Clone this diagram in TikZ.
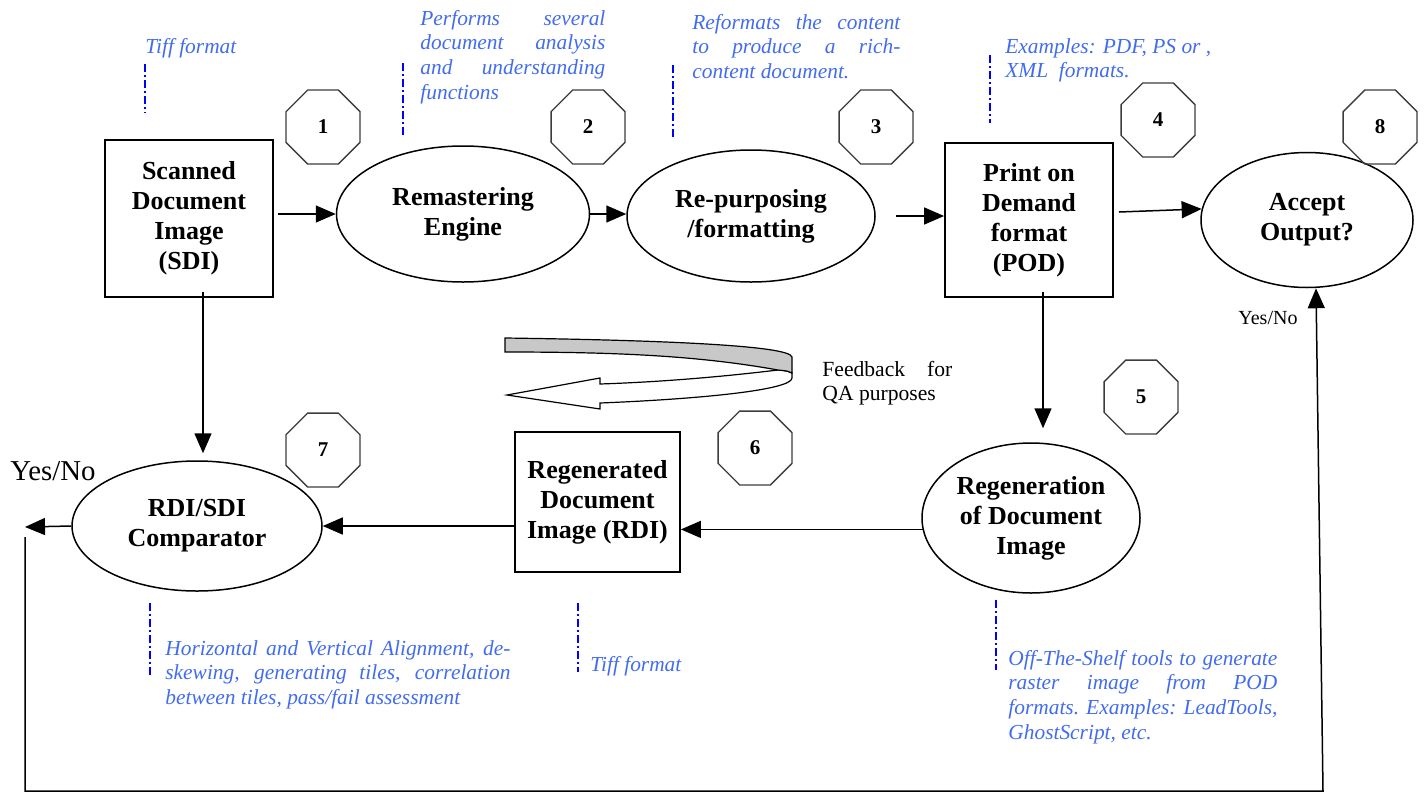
\documentclass[tikz,border=0pt]{standalone}
\usepackage{fontspec}
\setmainfont{Liberation Serif}
\usetikzlibrary{shapes.geometric,arrows.meta}
\definecolor{annblue}{RGB}{66,108,240}
\definecolor{lineblue}{RGB}{0,0,255}
\definecolor{octgray}{RGB}{60,60,60}
\definecolor{bandgray}{RGB}{200,200,200}
\begin{document}
\begin{tikzpicture}[x=0.5pt,y=-0.5pt,
  proc/.style={draw, line width=0.9pt, inner sep=0pt, align=center, font=\fontsize{13}{15}\selectfont\bfseries},
  ell/.style={proc, ellipse, line width=0.75pt},
  oct/.style={draw=octgray, regular polygon, regular polygon sides=8, minimum size=40pt, inner sep=0pt, line width=0.7pt, font=\fontsize{10.5}{12}\selectfont\bfseries},
  ann/.style={text=annblue, font=\fontsize{10.7}{12.35}\selectfont\itshape, inner sep=0pt, anchor=base west},
  lead/.style={lineblue, line width=0.8pt, dash pattern=on 4pt off 1.5pt on 1pt off 1.5pt},
  conn/.style={line width=0.75pt, -{Triangle[length=10pt,width=8.5pt]}},
  plain/.style={font=\fontsize{10.8}{12}\selectfont, inner sep=0pt, anchor=base west}]
\useasboundingbox (0,0) rectangle (1424,793);

% main nodes
\node[proc, minimum width=84pt, minimum height=78.5pt] (sdi) at (189,218.5) {Scanned\\Document\\Image\\(SDI)};
\node[ell, minimum width=126.5pt, minimum height=68pt] (rem) at (463,214) {Remastering\\Engine};
\node[ell, minimum width=124pt, minimum height=66pt] (rep) at (751,216) {Re-purposing\\/formatting};
\node[proc, minimum width=84pt, minimum height=77pt] (pod) at (1029,220) {Print on\\Demand\\format\\(POD)};
\node[ell, minimum width=106pt, minimum height=67.5pt] (acc) at (1307,220) {Accept\\Output?};
\node[ell, minimum width=125pt, minimum height=65pt] (cmp) at (197,526) {RDI/SDI\\Comparator};
\node[proc, minimum width=82.5pt, minimum height=70pt] (rdi) at (597.5,502) {Regenerated\\Document\\Image (RDI)};
\node[ell, minimum width=109pt, minimum height=75pt] (reg) at (1031,518) {Regeneration\\of Document\\Image};

% octagons
\node[oct] (o1) at (323,127) {1};
\node[oct] (o2) at (588,127) {2};
\node[oct] (o3) at (876,127) {3};
\node[oct] (o4) at (1158,120) {4};
\node[oct] (o8) at (1380,127) {8};
\node[oct] (o5) at (1141,397) {5};
\node[oct] (o6) at (755,448) {6};
\node[oct] (o7) at (323,450) {7};

% connectors
\draw[conn] ([xshift=2pt]sdi.east |- rem.west) -- (rem.west);
\draw[conn] (rem.east) -- (rem.east -| rep.west);
\draw[conn] ([xshift=10pt]rep.east) -- (rep.east -| pod.west);
\draw[conn] ([xshift=2.5pt,yshift=4pt]pod.east) -- (acc.174);
\draw[conn, shorten >=7pt] ([xshift=7pt,yshift=3pt]pod.south) -- ([xshift=7pt]pod.south |- reg.north);
\draw[conn, shorten >=3.5pt] ([xshift=7pt,yshift=3pt]sdi.south) -- ([xshift=7pt]sdi.south |- cmp.north);
\draw[conn] (rdi.west |- cmp.east) -- (cmp.east);
\draw[conn] (reg.186) -- (reg.186 -| rdi.east);

\coordinate (yl) at (25,527);
\coordinate (bl) at (25,791);
\coordinate (br) at (1323,791);
\draw[conn] (cmp.west) -- (yl);
\draw[conn] ([yshift=-5pt]yl) -- (bl) -- (br) -- ([xshift=4.5pt]acc.south);

% Yes/No labels
\node[font=\fontsize{14.4}{16}\selectfont, inner sep=0pt, anchor=base west] (yn1) at (10,480) {Yes/No};
\node[font=\fontsize{10}{12}\selectfont, inner sep=0pt, anchor=base west] (yn2) at (1238,324) {Yes/No};

% feedback curl arrow
\draw[line width=0.6pt, fill=white] (778,370) .. controls (720,377) and (660,382) .. (600,384) -- (600,378) -- (507,395) -- (600,409) -- (600,403) .. controls (700,399) and (792,390) .. (792,378) -- (792,373) .. controls (788,371) .. (778,370) -- cycle;
\draw[line width=0.6pt, fill=bandgray] (505,338) .. controls (650,340) and (790,345) .. (792,357) -- (792,373) .. controls (788,371) .. (778,370) .. controls (700,356) and (620,352) .. (505,352) -- cycle;
\node[plain] (fb) at (822,376) {\parbox[t]{65pt}{\makebox[65pt][s]{Feedback for}\\QA purposes}};

% annotations
\node[ann] (a1) at (145,53) {Tiff format};
\draw[lead] (145,64) -- (145,113);

\node[ann] (a2) at (420,25) {\parbox[t]{92.5pt}{\makebox[92.5pt][s]{Performs several}\\\makebox[92.5pt][s]{document analysis}\\\makebox[92.5pt][s]{and understanding}\\functions}};
\draw[lead] (403,63) -- (403,135);

\node[ann] (a3) at (692,29) {\parbox[t]{104pt}{\makebox[104pt][s]{Reformats the content}\\\makebox[104pt][s]{to produce a rich-}\\content document.}};
\draw[lead] (673,65) -- (673,137);

\node[ann] (a4) at (1005,53) {\parbox[t]{120pt}{Examples: PDF, PS or ,\\XML\ \ formats.}};
\draw[lead] (990,55) -- (990,123);

\node[ann] (a5) at (165,655) {\parbox[t]{172.5pt}{\makebox[172.5pt][s]{Horizontal and Vertical Alignment, de-}\\\makebox[172.5pt][s]{skewing, generating tiles, correlation}\\between tiles, pass/fail assessment}};
\draw[lead] (150,603) -- (150,675);

\node[ann] (a6) at (590,671) {Tiff format};
\draw[lead] (578,603) -- (578,672);

\node[ann] (a7) at (1008,665) {\parbox[t]{134.5pt}{\makebox[134.5pt][s]{Off-The-Shelf tools to generate}\\\makebox[134.5pt][s]{raster image from POD}\\\makebox[134.5pt][s]{formats. Examples: LeadTools,}\\GhostScript, etc.}};
\draw[lead] (996,600) -- (996,670);
\end{tikzpicture}
\end{document}
